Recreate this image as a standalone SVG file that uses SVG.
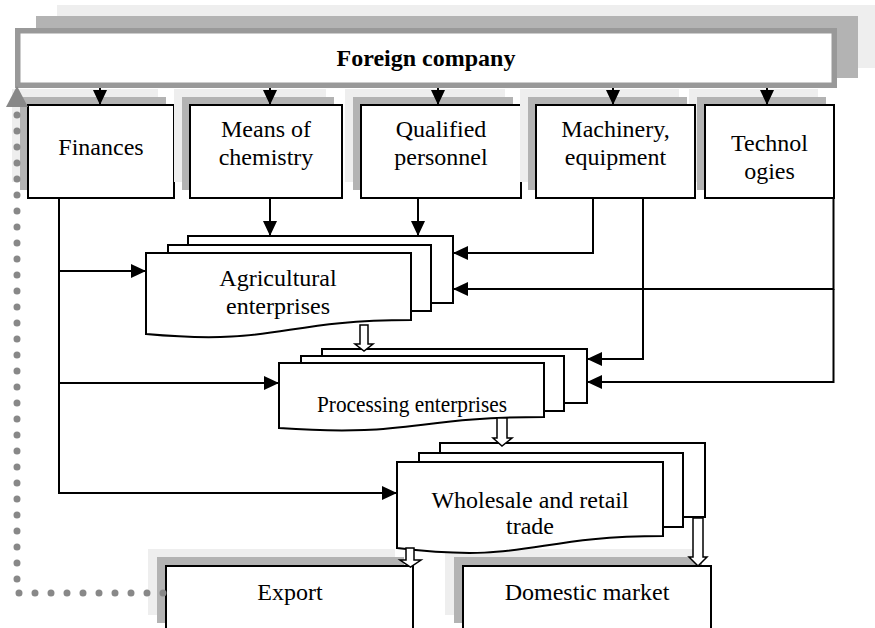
<svg xmlns="http://www.w3.org/2000/svg" width="875" height="628" viewBox="0 0 875 628">
<defs>
<style>
.box{fill:#fff;stroke:#000;stroke-width:2}
.sh1{fill:#eeeeee}
.sh2{fill:#b3b3b3}
.ln{fill:none;stroke:#000;stroke-width:2}
.blk{fill:#fff;stroke:#000;stroke-width:1.5;stroke-linejoin:miter}
.dots{fill:none;stroke:#888;stroke-width:7;stroke-linecap:round;stroke-dasharray:0 16}
text{font-family:"Liberation Serif","Times New Roman",serif;font-size:24px;fill:#000;text-anchor:middle}
</style>
<marker id="ah" viewBox="0 0 15 14" refX="15" refY="7" markerWidth="15" markerHeight="14" markerUnits="userSpaceOnUse" orient="auto">
<path d="M0,0 L15,7 L0,14 Z" fill="#000"/>
</marker>
</defs>

<g id="foreign-company">
<rect class="sh1" x="57" y="5" width="818" height="63"/>
<rect class="sh2" x="36" y="16" width="822" height="62"/>
<rect x="17.75" y="30.75" width="816.5" height="54.5" fill="#fff" stroke="#999" stroke-width="5.5"/>
<text x="426" y="66" font-weight="bold">Foreign company</text>
</g>

<g id="finances">
<rect class="sh1" x="12" y="89" width="146" height="93"/>
<rect class="sh2" x="20" y="97" width="146" height="93"/>
<rect class="box" x="28" y="105" width="146" height="93"/>
<text x="101" y="155">Finances</text>
</g>

<g id="means-of-chemistry">
<rect class="sh1" x="174" y="89" width="152" height="93"/>
<rect class="sh2" x="182" y="97" width="152" height="93"/>
<rect class="box" x="190" y="105" width="152" height="93"/>
<text x="266" y="137">Means of</text>
<text x="266" y="165">chemistry</text>
</g>

<g id="qualified-personnel">
<rect class="sh1" x="345" y="89" width="160" height="93"/>
<rect class="sh2" x="353" y="97" width="160" height="93"/>
<rect class="box" x="361" y="105" width="160" height="93"/>
<text x="441" y="137">Qualified</text>
<text x="441" y="165">personnel</text>
</g>

<g id="technologies">
<rect class="sh1" x="689" y="89" width="129" height="93"/>
<rect class="sh2" x="697" y="97" width="129" height="93"/>
<rect class="box" x="705" y="105" width="129" height="93"/>
<text x="769.5" y="151">Technol</text>
<text x="769.5" y="179">ogies</text>
</g>

<g id="machinery-equipment">
<rect class="sh1" x="520" y="89" width="159" height="93"/>
<rect class="sh2" x="528" y="97" width="159" height="93"/>
<rect class="box" x="536" y="105" width="159" height="93"/>
<text x="615.5" y="137">Machinery,</text>
<text x="615.5" y="165">equipment</text>
</g>

<g id="agricultural-enterprises">
<rect class="box" x="188" y="236" width="265" height="67"/>
<rect class="box" x="168" y="245" width="263" height="66"/>
<path class="box" d="M146,253 H411 V320 C278.5,320 278.5,346 146,334 Z"/>
<text x="278" y="286">Agricultural</text>
<text x="278" y="314">enterprises</text>
</g>

<g id="processing-enterprises">
<rect class="box" x="322" y="349" width="265" height="54"/>
<rect class="box" x="301" y="356" width="263" height="55"/>
<path class="box" d="M279,363 H544 V417 C411.5,417 411.5,437.5 279,428 Z"/>
<text x="412" y="412" textLength="190" lengthAdjust="spacingAndGlyphs">Processing enterprises</text>
</g>

<g id="export">
<rect class="sh1" x="148" y="549" width="247" height="66"/>
<rect class="sh2" x="157" y="557" width="247" height="66"/>
<rect class="box" x="166" y="566" width="247" height="66"/>
<text x="290" y="600">Export</text>
</g>

<g id="domestic-market">
<rect class="sh1" x="445" y="549" width="248" height="66"/>
<rect class="sh2" x="454" y="557" width="248" height="66"/>
<rect class="box" x="463" y="566" width="248" height="66"/>
<text x="587" y="600">Domestic market</text>
</g>

<g id="wholesale-retail-trade">
<rect class="box" x="440" y="443" width="265" height="74"/>
<rect class="box" x="419" y="453" width="264" height="74"/>
<path class="box" d="M397,462 H663 V536 C530,536 530,564 397,548 Z"/>
<text x="530" y="508">Wholesale and retail</text>
<text x="530" y="534">trade</text>
</g>

<g id="connectors">
<path class="ln" d="M100,88 V105" marker-end="url(#ah)"/>
<path class="ln" d="M270,88 V105" marker-end="url(#ah)"/>
<path class="ln" d="M438,88 V105" marker-end="url(#ah)"/>
<path class="ln" d="M613,88 V105" marker-end="url(#ah)"/>
<path class="ln" d="M767,88 V105" marker-end="url(#ah)"/>
<path class="ln" d="M270,198 V236" marker-end="url(#ah)"/>
<path class="ln" d="M418,198 V236" marker-end="url(#ah)"/>
<path class="ln" d="M593,198 V253 H453" marker-end="url(#ah)"/>
<path class="ln" d="M643,198 V359 H587" marker-end="url(#ah)"/>
<path class="ln" d="M833.5,198 V289 H453" marker-end="url(#ah)"/>
<path class="ln" d="M833.5,289 V382 H587" marker-end="url(#ah)"/>
<path class="ln" d="M59,198 V493 H397" marker-end="url(#ah)"/>
<path class="ln" d="M59,271 H146" marker-end="url(#ah)"/>
<path class="ln" d="M59,383 H279" marker-end="url(#ah)"/>
<polygon class="blk" points="360,325 368,325 368,344 373,344 364,351 355,344 360,344"/>
<polygon class="blk" points="497,418 507,418 507,438 512,438 502,446 493,438 497,438"/>
<polygon class="blk" points="406,548 414,548 414,560 421,560 410.5,567 400,560 406,560"/>
<polygon class="blk" points="693,518 703,518 703,557 707,557 698,566 689,557 693,557"/>
<path class="dots" d="M163,593 H17 V113"/>
<polygon points="6,107 28,107 17,86" fill="#888"/>
</g>
</svg>
